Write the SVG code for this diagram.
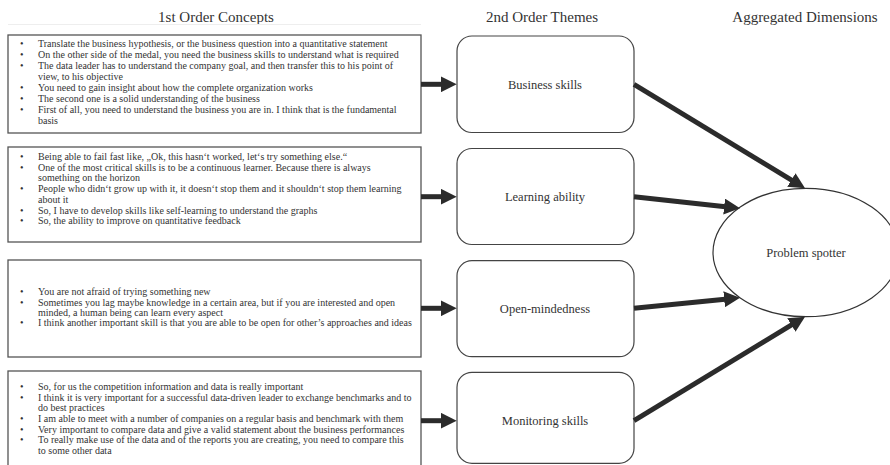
<svg xmlns="http://www.w3.org/2000/svg" width="890" height="465" viewBox="0 0 890 465">
<style>
.bg{fill:#fff}
.box{fill:#fff;stroke:#555;stroke-width:1.3}
.theme{fill:#fff;stroke:#444;stroke-width:1.2}
.hdr{font-family:"Liberation Serif","Times New Roman",serif;font-size:15px;fill:#333;text-anchor:middle}
.t{font-family:"Liberation Serif","Times New Roman",serif;font-size:10px;fill:#333}
.lbl{font-family:"Liberation Serif","Times New Roman",serif;font-size:12.5px;fill:#333;text-anchor:middle}
.conn{stroke:#2b2b2b;stroke-width:5;fill:none}
</style>
<defs>
<marker id="ah" viewBox="0 0 16 16" markerWidth="16" markerHeight="16" refX="6" refY="8" markerUnits="userSpaceOnUse" orient="auto">
<path d="M0,0 L16,8 L0,16 z" fill="#2b2b2b"/>
</marker>
</defs>
<rect class="bg" x="0" y="0" width="890" height="465"/>
<g id="headers">
<text class="hdr" x="216" y="21.5">1st Order Concepts</text>
<text class="hdr" x="542" y="21.5">2nd Order Themes</text>
<text class="hdr" x="805" y="21.5">Aggregated Dimensions</text>
<line x1="8" y1="24.5" x2="421" y2="24.5" stroke="#eee" stroke-width="1"/>
</g>
<g id="concepts1">
<rect class="box" x="8" y="35" width="413" height="98"/>
<text class="t">
<tspan x="20" y="46.5">•</tspan><tspan x="38" y="46.5">Translate the business hypothesis, or the business question into a quantitative statement</tspan>
<tspan x="20" y="57.5">•</tspan><tspan x="38" y="57.5">On the other side of the medal, you need the business skills to understand what  is required</tspan>
<tspan x="20" y="68.5">•</tspan><tspan x="38" y="68.5">The data leader has to understand the company goal, and then transfer this to his point of</tspan>
<tspan x="38" y="79.5">view, to his objective</tspan>
<tspan x="20" y="90.5">•</tspan><tspan x="38" y="90.5">You need to gain insight about how the complete organization works</tspan>
<tspan x="20" y="101.5">•</tspan><tspan x="38" y="101.5">The second one is a solid understanding of the business</tspan>
<tspan x="20" y="112.5">•</tspan><tspan x="38" y="112.5">First of all, you need to understand the business you are in. I think that is the fundamental</tspan>
<tspan x="38" y="123.5">basis</tspan>
</text>
</g>
<g id="concepts2">
<rect class="box" x="8" y="147" width="413" height="95"/>
<text class="t">
<tspan x="20" y="159.5">•</tspan><tspan x="38" y="159.5">Being able to fail fast like, „Ok, this hasn‘t worked, let‘s try something else.“</tspan>
<tspan x="20" y="170.5">•</tspan><tspan x="38" y="170.5">One of the most critical skills is to be a continuous learner. Because there is always</tspan>
<tspan x="38" y="181.3">something on the horizon</tspan>
<tspan x="20" y="192">•</tspan><tspan x="38" y="192">People who didn‘t grow up with it, it doesn‘t stop them and it shouldn‘t stop them learning</tspan>
<tspan x="38" y="202.7">about it</tspan>
<tspan x="20" y="213.5">•</tspan><tspan x="38" y="213.5">So, I have to develop skills like self-learning to understand the graphs</tspan>
<tspan x="20" y="224">•</tspan><tspan x="38" y="224">So, the ability to improve on quantitative feedback</tspan>
</text>
</g>
<g id="concepts3">
<rect class="box" x="8" y="260" width="413" height="97"/>
<text class="t">
<tspan x="20" y="294.5">•</tspan><tspan x="38" y="294.5">You are not afraid of trying something new</tspan>
<tspan x="20" y="306">•</tspan><tspan x="38" y="306">Sometimes you lag maybe knowledge in a certain area, but if you are interested and open</tspan>
<tspan x="38" y="315.5">minded, a human being can learn every aspect</tspan>
<tspan x="20" y="326">•</tspan><tspan x="38" y="326">I think another important skill is that you are able to be open for other’s approaches and ideas</tspan>
</text>
</g>
<g id="concepts4">
<rect class="box" x="8" y="371" width="413" height="100"/>
<text class="t">
<tspan x="20" y="390">•</tspan><tspan x="38" y="390">So, for us the competition information and data is really important</tspan>
<tspan x="20" y="401">•</tspan><tspan x="38" y="401">I think it is very important for a successful data-driven leader to exchange benchmarks and to</tspan>
<tspan x="38" y="410.5">do best practices</tspan>
<tspan x="20" y="421.5">•</tspan><tspan x="38" y="421.5">I am able to meet with a number of companies on a regular basis and benchmark with them</tspan>
<tspan x="20" y="432.5">•</tspan><tspan x="38" y="432.5">Very important to compare data and  give a valid statement about the business performances</tspan>
<tspan x="20" y="443">•</tspan><tspan x="38" y="443">To really make use of the data and of the reports you are creating, you need to compare this</tspan>
<tspan x="38" y="453.5">to some other data</tspan>
</text>
</g>
<g id="theme-business">
<rect class="theme" x="457" y="36" width="177" height="96.5" rx="15"/>
<text class="lbl" x="545" y="88.5">Business skills</text>
</g>
<g id="theme-learning">
<rect class="theme" x="457" y="148.5" width="177" height="96" rx="15"/>
<text class="lbl" x="545" y="200.5">Learning ability</text>
</g>
<g id="theme-open">
<rect class="theme" x="457" y="260.7" width="177" height="96" rx="15"/>
<text class="lbl" x="545" y="312.5">Open-mindedness</text>
</g>
<g id="theme-monitoring">
<rect class="theme" x="457" y="372.3" width="177" height="91" rx="15"/>
<text class="lbl" x="545" y="424.5">Monitoring skills</text>
</g>
<g id="dimension-problem-spotter">
<ellipse cx="806" cy="252.5" rx="93" ry="64.2" fill="#fff" stroke="#333" stroke-width="1.2"/>
<text class="lbl" x="806" y="257">Problem spotter</text>
</g>
<g id="connectors">
<line class="conn" x1="421" y1="84.3" x2="446.7" y2="84.3" marker-end="url(#ah)"/>
<line class="conn" x1="421" y1="196.7" x2="446.7" y2="196.7" marker-end="url(#ah)"/>
<line class="conn" x1="421" y1="308.3" x2="446.7" y2="308.3" marker-end="url(#ah)"/>
<line class="conn" x1="421" y1="420.7" x2="446.7" y2="420.7" marker-end="url(#ah)"/>
<line class="conn" x1="634" y1="84.3" x2="796.5" y2="183.1" marker-end="url(#ah)"/>
<line class="conn" x1="634" y1="196.7" x2="730.1" y2="207.2" marker-end="url(#ah)"/>
<line class="conn" x1="634" y1="308.3" x2="730.1" y2="298.7" marker-end="url(#ah)"/>
<line class="conn" x1="634" y1="420.7" x2="796.5" y2="321.9" marker-end="url(#ah)"/>
</g>
</svg>
